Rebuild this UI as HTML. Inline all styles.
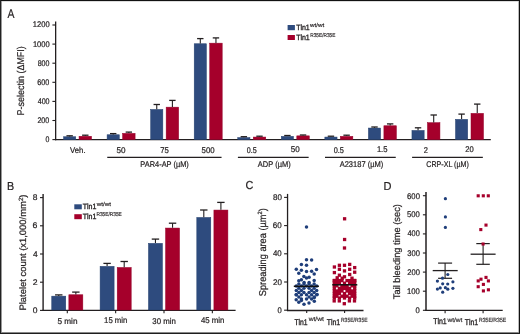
<!DOCTYPE html>
<html><head><meta charset="utf-8"><title>Figure</title>
<style>
html,body{margin:0;padding:0;background:#fff;}
svg{display:block;will-change:transform;}
svg text{font-family:"Liberation Sans", sans-serif;fill:#231f20;stroke:#231f20;stroke-width:0.22px;text-rendering:geometricPrecision;}
svg text.s{stroke-width:0.16px;}
svg text.b{stroke-width:0.34px;}
</style></head>
<body>
<svg width="520" height="334" viewBox="0 0 520 334">
<rect x="0" y="0" width="520" height="334" fill="#fff"/>
<line x1="55.65" y1="21.40" x2="55.65" y2="140.20" stroke="#231f20" stroke-width="1.3"/>
<line x1="55.05" y1="139.60" x2="490.80" y2="139.60" stroke="#231f20" stroke-width="1.4"/>
<line x1="52.40" y1="139.60" x2="55.65" y2="139.60" stroke="#231f20" stroke-width="1.1"/>
<line x1="52.40" y1="120.50" x2="55.65" y2="120.50" stroke="#231f20" stroke-width="1.1"/>
<line x1="52.40" y1="101.40" x2="55.65" y2="101.40" stroke="#231f20" stroke-width="1.1"/>
<line x1="52.40" y1="82.30" x2="55.65" y2="82.30" stroke="#231f20" stroke-width="1.1"/>
<line x1="52.40" y1="63.20" x2="55.65" y2="63.20" stroke="#231f20" stroke-width="1.1"/>
<line x1="52.40" y1="44.10" x2="55.65" y2="44.10" stroke="#231f20" stroke-width="1.1"/>
<line x1="52.40" y1="25.00" x2="55.65" y2="25.00" stroke="#231f20" stroke-width="1.1"/>
<rect x="63.55" y="136.75" width="12.20" height="2.85" fill="#2e4b7e" stroke="#24406f" stroke-width="0.5"/>
<line x1="69.65" y1="135.80" x2="69.65" y2="136.50" stroke="#231f20" stroke-width="1.1"/>
<line x1="66.45" y1="135.80" x2="72.85" y2="135.80" stroke="#231f20" stroke-width="1.3"/>
<rect x="79.05" y="136.25" width="12.50" height="3.35" fill="#a5002b" stroke="#95002a" stroke-width="0.5"/>
<line x1="85.30" y1="135.20" x2="85.30" y2="136.00" stroke="#231f20" stroke-width="1.1"/>
<line x1="82.10" y1="135.20" x2="88.50" y2="135.20" stroke="#231f20" stroke-width="1.3"/>
<rect x="107.10" y="134.75" width="12.20" height="4.85" fill="#2e4b7e" stroke="#24406f" stroke-width="0.5"/>
<line x1="113.20" y1="133.60" x2="113.20" y2="134.50" stroke="#231f20" stroke-width="1.1"/>
<line x1="110.00" y1="133.60" x2="116.40" y2="133.60" stroke="#231f20" stroke-width="1.3"/>
<rect x="122.60" y="133.35" width="12.50" height="6.25" fill="#a5002b" stroke="#95002a" stroke-width="0.5"/>
<line x1="128.85" y1="132.10" x2="128.85" y2="133.10" stroke="#231f20" stroke-width="1.1"/>
<line x1="125.65" y1="132.10" x2="132.05" y2="132.10" stroke="#231f20" stroke-width="1.3"/>
<rect x="150.65" y="109.45" width="12.20" height="30.15" fill="#2e4b7e" stroke="#24406f" stroke-width="0.5"/>
<line x1="156.75" y1="104.50" x2="156.75" y2="109.20" stroke="#231f20" stroke-width="1.1"/>
<line x1="153.55" y1="104.50" x2="159.95" y2="104.50" stroke="#231f20" stroke-width="1.3"/>
<rect x="166.15" y="107.15" width="12.50" height="32.45" fill="#a5002b" stroke="#95002a" stroke-width="0.5"/>
<line x1="172.40" y1="100.40" x2="172.40" y2="106.90" stroke="#231f20" stroke-width="1.1"/>
<line x1="169.20" y1="100.40" x2="175.60" y2="100.40" stroke="#231f20" stroke-width="1.3"/>
<rect x="194.20" y="43.75" width="12.20" height="95.85" fill="#2e4b7e" stroke="#24406f" stroke-width="0.5"/>
<line x1="200.30" y1="38.60" x2="200.30" y2="43.50" stroke="#231f20" stroke-width="1.1"/>
<line x1="197.10" y1="38.60" x2="203.50" y2="38.60" stroke="#231f20" stroke-width="1.3"/>
<rect x="209.70" y="43.15" width="12.50" height="96.45" fill="#a5002b" stroke="#95002a" stroke-width="0.5"/>
<line x1="215.95" y1="37.90" x2="215.95" y2="42.90" stroke="#231f20" stroke-width="1.1"/>
<line x1="212.75" y1="37.90" x2="219.15" y2="37.90" stroke="#231f20" stroke-width="1.3"/>
<rect x="237.75" y="137.55" width="12.20" height="2.05" fill="#2e4b7e" stroke="#24406f" stroke-width="0.5"/>
<line x1="243.85" y1="136.70" x2="243.85" y2="137.30" stroke="#231f20" stroke-width="1.1"/>
<line x1="240.65" y1="136.70" x2="247.05" y2="136.70" stroke="#231f20" stroke-width="1.3"/>
<rect x="253.25" y="137.05" width="12.50" height="2.55" fill="#a5002b" stroke="#95002a" stroke-width="0.5"/>
<line x1="259.50" y1="136.20" x2="259.50" y2="136.80" stroke="#231f20" stroke-width="1.1"/>
<line x1="256.30" y1="136.20" x2="262.70" y2="136.20" stroke="#231f20" stroke-width="1.3"/>
<rect x="281.30" y="136.35" width="12.20" height="3.25" fill="#2e4b7e" stroke="#24406f" stroke-width="0.5"/>
<line x1="287.40" y1="135.50" x2="287.40" y2="136.10" stroke="#231f20" stroke-width="1.1"/>
<line x1="284.20" y1="135.50" x2="290.60" y2="135.50" stroke="#231f20" stroke-width="1.3"/>
<rect x="296.80" y="135.85" width="12.50" height="3.75" fill="#a5002b" stroke="#95002a" stroke-width="0.5"/>
<line x1="303.05" y1="135.00" x2="303.05" y2="135.60" stroke="#231f20" stroke-width="1.1"/>
<line x1="299.85" y1="135.00" x2="306.25" y2="135.00" stroke="#231f20" stroke-width="1.3"/>
<rect x="324.85" y="137.05" width="12.20" height="2.55" fill="#2e4b7e" stroke="#24406f" stroke-width="0.5"/>
<line x1="330.95" y1="136.20" x2="330.95" y2="136.80" stroke="#231f20" stroke-width="1.1"/>
<line x1="327.75" y1="136.20" x2="334.15" y2="136.20" stroke="#231f20" stroke-width="1.3"/>
<rect x="340.35" y="136.35" width="12.50" height="3.25" fill="#a5002b" stroke="#95002a" stroke-width="0.5"/>
<line x1="346.60" y1="135.20" x2="346.60" y2="136.10" stroke="#231f20" stroke-width="1.1"/>
<line x1="343.40" y1="135.20" x2="349.80" y2="135.20" stroke="#231f20" stroke-width="1.3"/>
<rect x="368.40" y="128.05" width="12.20" height="11.55" fill="#2e4b7e" stroke="#24406f" stroke-width="0.5"/>
<line x1="374.50" y1="127.00" x2="374.50" y2="127.80" stroke="#231f20" stroke-width="1.1"/>
<line x1="371.30" y1="127.00" x2="377.70" y2="127.00" stroke="#231f20" stroke-width="1.3"/>
<rect x="383.90" y="125.75" width="12.50" height="13.85" fill="#a5002b" stroke="#95002a" stroke-width="0.5"/>
<line x1="390.15" y1="123.90" x2="390.15" y2="125.50" stroke="#231f20" stroke-width="1.1"/>
<line x1="386.95" y1="123.90" x2="393.35" y2="123.90" stroke="#231f20" stroke-width="1.3"/>
<rect x="411.95" y="130.45" width="12.20" height="9.15" fill="#2e4b7e" stroke="#24406f" stroke-width="0.5"/>
<line x1="418.05" y1="127.80" x2="418.05" y2="130.20" stroke="#231f20" stroke-width="1.1"/>
<line x1="414.85" y1="127.80" x2="421.25" y2="127.80" stroke="#231f20" stroke-width="1.3"/>
<rect x="427.45" y="122.65" width="12.50" height="16.95" fill="#a5002b" stroke="#95002a" stroke-width="0.5"/>
<line x1="433.70" y1="115.00" x2="433.70" y2="122.40" stroke="#231f20" stroke-width="1.1"/>
<line x1="430.50" y1="115.00" x2="436.90" y2="115.00" stroke="#231f20" stroke-width="1.3"/>
<rect x="455.50" y="119.35" width="12.20" height="20.25" fill="#2e4b7e" stroke="#24406f" stroke-width="0.5"/>
<line x1="461.60" y1="114.10" x2="461.60" y2="119.10" stroke="#231f20" stroke-width="1.1"/>
<line x1="458.40" y1="114.10" x2="464.80" y2="114.10" stroke="#231f20" stroke-width="1.3"/>
<rect x="471.00" y="113.35" width="12.50" height="26.25" fill="#a5002b" stroke="#95002a" stroke-width="0.5"/>
<line x1="477.25" y1="104.10" x2="477.25" y2="113.10" stroke="#231f20" stroke-width="1.1"/>
<line x1="474.05" y1="104.10" x2="480.45" y2="104.10" stroke="#231f20" stroke-width="1.3"/>
<line x1="107.25" y1="157.30" x2="221.55" y2="157.30" stroke="#231f20" stroke-width="1.3"/>
<line x1="237.90" y1="157.30" x2="308.65" y2="157.30" stroke="#231f20" stroke-width="1.3"/>
<line x1="325.00" y1="157.30" x2="395.75" y2="157.30" stroke="#231f20" stroke-width="1.3"/>
<line x1="412.10" y1="157.30" x2="482.85" y2="157.30" stroke="#231f20" stroke-width="1.3"/>
<rect x="287.60" y="25.00" width="7.30" height="5.20" fill="#2e4b7e"/>
<rect x="287.60" y="35.00" width="7.30" height="5.00" fill="#a5002b"/>
<line x1="43.10" y1="193.90" x2="43.10" y2="311.00" stroke="#231f20" stroke-width="1.4"/>
<line x1="42.50" y1="310.40" x2="235.60" y2="310.40" stroke="#231f20" stroke-width="1.35"/>
<line x1="40.00" y1="310.40" x2="43.10" y2="310.40" stroke="#231f20" stroke-width="1.1"/>
<line x1="40.00" y1="282.20" x2="43.10" y2="282.20" stroke="#231f20" stroke-width="1.1"/>
<line x1="40.00" y1="254.00" x2="43.10" y2="254.00" stroke="#231f20" stroke-width="1.1"/>
<line x1="40.00" y1="225.80" x2="43.10" y2="225.80" stroke="#231f20" stroke-width="1.1"/>
<line x1="40.00" y1="197.60" x2="43.10" y2="197.60" stroke="#231f20" stroke-width="1.1"/>
<rect x="51.75" y="296.15" width="14.00" height="13.85" fill="#2e4b7e" stroke="#24406f" stroke-width="0.5"/>
<line x1="58.75" y1="294.90" x2="58.75" y2="295.90" stroke="#231f20" stroke-width="1.1"/>
<line x1="55.05" y1="294.90" x2="62.45" y2="294.90" stroke="#231f20" stroke-width="1.3"/>
<rect x="68.85" y="294.75" width="14.00" height="15.25" fill="#a5002b" stroke="#95002a" stroke-width="0.5"/>
<line x1="75.85" y1="292.10" x2="75.85" y2="294.50" stroke="#231f20" stroke-width="1.1"/>
<line x1="72.15" y1="292.10" x2="79.55" y2="292.10" stroke="#231f20" stroke-width="1.3"/>
<line x1="67.30" y1="310.40" x2="67.30" y2="313.30" stroke="#231f20" stroke-width="1.1"/>
<rect x="100.10" y="266.35" width="14.00" height="43.65" fill="#2e4b7e" stroke="#24406f" stroke-width="0.5"/>
<line x1="107.10" y1="263.40" x2="107.10" y2="266.10" stroke="#231f20" stroke-width="1.1"/>
<line x1="103.40" y1="263.40" x2="110.80" y2="263.40" stroke="#231f20" stroke-width="1.3"/>
<rect x="117.20" y="267.45" width="14.00" height="42.55" fill="#a5002b" stroke="#95002a" stroke-width="0.5"/>
<line x1="124.20" y1="261.50" x2="124.20" y2="267.20" stroke="#231f20" stroke-width="1.1"/>
<line x1="120.50" y1="261.50" x2="127.90" y2="261.50" stroke="#231f20" stroke-width="1.3"/>
<line x1="115.65" y1="310.40" x2="115.65" y2="313.30" stroke="#231f20" stroke-width="1.1"/>
<rect x="148.45" y="243.35" width="14.00" height="66.65" fill="#2e4b7e" stroke="#24406f" stroke-width="0.5"/>
<line x1="155.45" y1="239.10" x2="155.45" y2="243.10" stroke="#231f20" stroke-width="1.1"/>
<line x1="151.75" y1="239.10" x2="159.15" y2="239.10" stroke="#231f20" stroke-width="1.3"/>
<rect x="165.55" y="228.05" width="14.00" height="81.95" fill="#a5002b" stroke="#95002a" stroke-width="0.5"/>
<line x1="172.55" y1="223.20" x2="172.55" y2="227.80" stroke="#231f20" stroke-width="1.1"/>
<line x1="168.85" y1="223.20" x2="176.25" y2="223.20" stroke="#231f20" stroke-width="1.3"/>
<line x1="164.00" y1="310.40" x2="164.00" y2="313.30" stroke="#231f20" stroke-width="1.1"/>
<rect x="196.80" y="217.45" width="14.00" height="92.55" fill="#2e4b7e" stroke="#24406f" stroke-width="0.5"/>
<line x1="203.80" y1="210.00" x2="203.80" y2="217.20" stroke="#231f20" stroke-width="1.1"/>
<line x1="200.10" y1="210.00" x2="207.50" y2="210.00" stroke="#231f20" stroke-width="1.3"/>
<rect x="213.90" y="210.05" width="14.00" height="99.95" fill="#a5002b" stroke="#95002a" stroke-width="0.5"/>
<line x1="220.90" y1="202.40" x2="220.90" y2="209.80" stroke="#231f20" stroke-width="1.1"/>
<line x1="217.20" y1="202.40" x2="224.60" y2="202.40" stroke="#231f20" stroke-width="1.3"/>
<line x1="212.35" y1="310.40" x2="212.35" y2="313.30" stroke="#231f20" stroke-width="1.1"/>
<rect x="74.30" y="204.30" width="7.50" height="5.00" fill="#2e4b7e"/>
<rect x="74.30" y="214.20" width="7.50" height="5.00" fill="#a5002b"/>
<line x1="287.55" y1="193.90" x2="287.55" y2="311.05" stroke="#231f20" stroke-width="1.3"/>
<line x1="286.95" y1="310.45" x2="363.50" y2="310.45" stroke="#231f20" stroke-width="1.35"/>
<line x1="284.10" y1="310.20" x2="287.55" y2="310.20" stroke="#231f20" stroke-width="1.1"/>
<line x1="284.10" y1="282.00" x2="287.55" y2="282.00" stroke="#231f20" stroke-width="1.1"/>
<line x1="284.10" y1="253.80" x2="287.55" y2="253.80" stroke="#231f20" stroke-width="1.1"/>
<line x1="284.10" y1="225.60" x2="287.55" y2="225.60" stroke="#231f20" stroke-width="1.1"/>
<line x1="284.10" y1="197.40" x2="287.55" y2="197.40" stroke="#231f20" stroke-width="1.1"/>
<line x1="306.70" y1="310.45" x2="306.70" y2="313.00" stroke="#231f20" stroke-width="1.1"/>
<line x1="344.60" y1="310.45" x2="344.60" y2="313.00" stroke="#231f20" stroke-width="1.1"/>
<line x1="426.00" y1="192.00" x2="426.00" y2="311.00" stroke="#231f20" stroke-width="1.5"/>
<line x1="425.40" y1="310.40" x2="502.70" y2="310.40" stroke="#231f20" stroke-width="1.35"/>
<line x1="422.90" y1="310.30" x2="426.00" y2="310.30" stroke="#231f20" stroke-width="1.1"/>
<line x1="422.90" y1="291.20" x2="426.00" y2="291.20" stroke="#231f20" stroke-width="1.1"/>
<line x1="422.90" y1="272.10" x2="426.00" y2="272.10" stroke="#231f20" stroke-width="1.1"/>
<line x1="422.90" y1="253.00" x2="426.00" y2="253.00" stroke="#231f20" stroke-width="1.1"/>
<line x1="422.90" y1="233.90" x2="426.00" y2="233.90" stroke="#231f20" stroke-width="1.1"/>
<line x1="422.90" y1="214.80" x2="426.00" y2="214.80" stroke="#231f20" stroke-width="1.1"/>
<line x1="422.90" y1="195.70" x2="426.00" y2="195.70" stroke="#231f20" stroke-width="1.1"/>
<line x1="445.10" y1="310.40" x2="445.10" y2="313.30" stroke="#231f20" stroke-width="1.1"/>
<line x1="483.10" y1="310.40" x2="483.10" y2="313.30" stroke="#231f20" stroke-width="1.1"/>
<circle cx="306.50" cy="227.00" r="1.75" fill="#1f3e7a"/>
<circle cx="306.50" cy="259.80" r="1.75" fill="#1f3e7a"/>
<circle cx="311.60" cy="260.00" r="1.75" fill="#1f3e7a"/>
<circle cx="301.40" cy="264.40" r="1.75" fill="#1f3e7a"/>
<circle cx="306.50" cy="265.20" r="1.75" fill="#1f3e7a"/>
<circle cx="296.30" cy="269.30" r="1.75" fill="#1f3e7a"/>
<circle cx="301.40" cy="270.20" r="1.75" fill="#1f3e7a"/>
<circle cx="306.50" cy="271.60" r="1.75" fill="#1f3e7a"/>
<circle cx="311.60" cy="271.20" r="1.75" fill="#1f3e7a"/>
<circle cx="316.50" cy="269.40" r="1.75" fill="#1f3e7a"/>
<circle cx="298.80" cy="273.30" r="1.75" fill="#1f3e7a"/>
<circle cx="314.20" cy="274.10" r="1.75" fill="#1f3e7a"/>
<circle cx="303.90" cy="276.40" r="1.75" fill="#1f3e7a"/>
<circle cx="306.50" cy="278.00" r="1.75" fill="#1f3e7a"/>
<circle cx="309.10" cy="277.30" r="1.75" fill="#1f3e7a"/>
<circle cx="301.40" cy="279.80" r="1.75" fill="#1f3e7a"/>
<circle cx="298.80" cy="280.80" r="1.75" fill="#1f3e7a"/>
<circle cx="314.20" cy="280.50" r="1.75" fill="#1f3e7a"/>
<circle cx="304.10" cy="282.40" r="1.75" fill="#1f3e7a"/>
<circle cx="309.10" cy="282.40" r="1.75" fill="#1f3e7a"/>
<circle cx="304.00" cy="304.30" r="1.75" fill="#1f3e7a"/>
<circle cx="309.00" cy="303.10" r="1.75" fill="#1f3e7a"/>
<circle cx="298.80" cy="302.30" r="1.75" fill="#1f3e7a"/>
<circle cx="314.30" cy="301.20" r="1.75" fill="#1f3e7a"/>
<circle cx="296.20" cy="299.70" r="1.75" fill="#1f3e7a"/>
<circle cx="301.40" cy="300.60" r="1.75" fill="#1f3e7a"/>
<circle cx="314.30" cy="297.50" r="1.75" fill="#1f3e7a"/>
<circle cx="296.20" cy="294.80" r="1.75" fill="#1f3e7a"/>
<circle cx="317.10" cy="294.50" r="1.75" fill="#1f3e7a"/>
<circle cx="298.85" cy="283.90" r="1.75" fill="#1f3e7a"/>
<circle cx="303.95" cy="283.90" r="1.75" fill="#1f3e7a"/>
<circle cx="309.05" cy="283.90" r="1.75" fill="#1f3e7a"/>
<circle cx="314.15" cy="283.90" r="1.75" fill="#1f3e7a"/>
<circle cx="296.30" cy="286.00" r="1.75" fill="#1f3e7a"/>
<circle cx="301.40" cy="286.00" r="1.75" fill="#1f3e7a"/>
<circle cx="306.50" cy="286.00" r="1.75" fill="#1f3e7a"/>
<circle cx="311.60" cy="286.00" r="1.75" fill="#1f3e7a"/>
<circle cx="316.70" cy="286.00" r="1.75" fill="#1f3e7a"/>
<circle cx="298.85" cy="288.20" r="1.75" fill="#1f3e7a"/>
<circle cx="303.95" cy="288.20" r="1.75" fill="#1f3e7a"/>
<circle cx="309.05" cy="288.20" r="1.75" fill="#1f3e7a"/>
<circle cx="314.15" cy="288.20" r="1.75" fill="#1f3e7a"/>
<circle cx="296.30" cy="290.40" r="1.75" fill="#1f3e7a"/>
<circle cx="301.40" cy="290.40" r="1.75" fill="#1f3e7a"/>
<circle cx="311.60" cy="290.40" r="1.75" fill="#1f3e7a"/>
<circle cx="316.70" cy="290.40" r="1.75" fill="#1f3e7a"/>
<circle cx="298.85" cy="292.60" r="1.75" fill="#1f3e7a"/>
<circle cx="303.95" cy="292.60" r="1.75" fill="#1f3e7a"/>
<circle cx="309.05" cy="292.60" r="1.75" fill="#1f3e7a"/>
<circle cx="314.15" cy="292.60" r="1.75" fill="#1f3e7a"/>
<circle cx="296.30" cy="294.80" r="1.75" fill="#1f3e7a"/>
<circle cx="301.40" cy="294.80" r="1.75" fill="#1f3e7a"/>
<circle cx="306.50" cy="294.80" r="1.75" fill="#1f3e7a"/>
<circle cx="311.60" cy="294.80" r="1.75" fill="#1f3e7a"/>
<circle cx="316.70" cy="294.80" r="1.75" fill="#1f3e7a"/>
<circle cx="298.85" cy="297.00" r="1.75" fill="#1f3e7a"/>
<circle cx="309.05" cy="297.00" r="1.75" fill="#1f3e7a"/>
<circle cx="314.15" cy="297.00" r="1.75" fill="#1f3e7a"/>
<circle cx="301.40" cy="299.00" r="1.75" fill="#1f3e7a"/>
<circle cx="306.50" cy="299.00" r="1.75" fill="#1f3e7a"/>
<circle cx="311.60" cy="299.00" r="1.75" fill="#1f3e7a"/>
<rect x="342.95" y="217.15" width="3.3" height="3.3" fill="#a6002b"/>
<rect x="342.95" y="237.85" width="3.3" height="3.3" fill="#a6002b"/>
<rect x="342.85" y="246.35" width="3.3" height="3.3" fill="#a6002b"/>
<rect x="332.75" y="265.35" width="3.3" height="3.3" fill="#a6002b"/>
<rect x="337.75" y="263.65" width="3.3" height="3.3" fill="#a6002b"/>
<rect x="342.85" y="263.65" width="3.3" height="3.3" fill="#a6002b"/>
<rect x="348.05" y="262.75" width="3.3" height="3.3" fill="#a6002b"/>
<rect x="353.05" y="265.95" width="3.3" height="3.3" fill="#a6002b"/>
<rect x="337.75" y="267.65" width="3.3" height="3.3" fill="#a6002b"/>
<rect x="342.85" y="269.25" width="3.3" height="3.3" fill="#a6002b"/>
<rect x="348.05" y="267.65" width="3.3" height="3.3" fill="#a6002b"/>
<rect x="332.75" y="270.95" width="3.3" height="3.3" fill="#a6002b"/>
<rect x="353.05" y="270.55" width="3.3" height="3.3" fill="#a6002b"/>
<rect x="337.75" y="273.55" width="3.3" height="3.3" fill="#a6002b"/>
<rect x="348.05" y="272.85" width="3.3" height="3.3" fill="#a6002b"/>
<rect x="342.85" y="275.15" width="3.3" height="3.3" fill="#a6002b"/>
<rect x="340.55" y="276.55" width="3.3" height="3.3" fill="#a6002b"/>
<rect x="335.55" y="276.15" width="3.3" height="3.3" fill="#a6002b"/>
<rect x="350.35" y="276.55" width="3.3" height="3.3" fill="#a6002b"/>
<rect x="332.75" y="278.85" width="3.3" height="3.3" fill="#a6002b"/>
<rect x="353.05" y="278.85" width="3.3" height="3.3" fill="#a6002b"/>
<rect x="332.55" y="299.25" width="3.3" height="3.3" fill="#a6002b"/>
<rect x="337.65" y="299.25" width="3.3" height="3.3" fill="#a6002b"/>
<rect x="347.75" y="299.25" width="3.3" height="3.3" fill="#a6002b"/>
<rect x="352.85" y="299.25" width="3.3" height="3.3" fill="#a6002b"/>
<rect x="342.65" y="302.05" width="3.3" height="3.3" fill="#a6002b"/>
<rect x="332.65" y="278.95" width="3.3" height="3.3" fill="#a6002b"/>
<rect x="335.20" y="278.95" width="3.3" height="3.3" fill="#a6002b"/>
<rect x="337.75" y="278.95" width="3.3" height="3.3" fill="#a6002b"/>
<rect x="340.30" y="278.95" width="3.3" height="3.3" fill="#a6002b"/>
<rect x="345.40" y="278.95" width="3.3" height="3.3" fill="#a6002b"/>
<rect x="347.95" y="278.95" width="3.3" height="3.3" fill="#a6002b"/>
<rect x="350.50" y="278.95" width="3.3" height="3.3" fill="#a6002b"/>
<rect x="353.05" y="278.95" width="3.3" height="3.3" fill="#a6002b"/>
<rect x="332.65" y="281.55" width="3.3" height="3.3" fill="#a6002b"/>
<rect x="335.20" y="281.55" width="3.3" height="3.3" fill="#a6002b"/>
<rect x="337.75" y="281.55" width="3.3" height="3.3" fill="#a6002b"/>
<rect x="342.85" y="281.55" width="3.3" height="3.3" fill="#a6002b"/>
<rect x="347.95" y="281.55" width="3.3" height="3.3" fill="#a6002b"/>
<rect x="350.50" y="281.55" width="3.3" height="3.3" fill="#a6002b"/>
<rect x="353.05" y="281.55" width="3.3" height="3.3" fill="#a6002b"/>
<rect x="332.65" y="284.15" width="3.3" height="3.3" fill="#a6002b"/>
<rect x="335.20" y="284.15" width="3.3" height="3.3" fill="#a6002b"/>
<rect x="340.30" y="284.15" width="3.3" height="3.3" fill="#a6002b"/>
<rect x="342.85" y="284.15" width="3.3" height="3.3" fill="#a6002b"/>
<rect x="345.40" y="284.15" width="3.3" height="3.3" fill="#a6002b"/>
<rect x="350.50" y="284.15" width="3.3" height="3.3" fill="#a6002b"/>
<rect x="353.05" y="284.15" width="3.3" height="3.3" fill="#a6002b"/>
<rect x="332.65" y="286.75" width="3.3" height="3.3" fill="#a6002b"/>
<rect x="337.75" y="286.75" width="3.3" height="3.3" fill="#a6002b"/>
<rect x="340.30" y="286.75" width="3.3" height="3.3" fill="#a6002b"/>
<rect x="342.85" y="286.75" width="3.3" height="3.3" fill="#a6002b"/>
<rect x="345.40" y="286.75" width="3.3" height="3.3" fill="#a6002b"/>
<rect x="347.95" y="286.75" width="3.3" height="3.3" fill="#a6002b"/>
<rect x="353.05" y="286.75" width="3.3" height="3.3" fill="#a6002b"/>
<rect x="332.65" y="289.35" width="3.3" height="3.3" fill="#a6002b"/>
<rect x="335.20" y="289.35" width="3.3" height="3.3" fill="#a6002b"/>
<rect x="337.75" y="289.35" width="3.3" height="3.3" fill="#a6002b"/>
<rect x="340.30" y="289.35" width="3.3" height="3.3" fill="#a6002b"/>
<rect x="345.40" y="289.35" width="3.3" height="3.3" fill="#a6002b"/>
<rect x="347.95" y="289.35" width="3.3" height="3.3" fill="#a6002b"/>
<rect x="350.50" y="289.35" width="3.3" height="3.3" fill="#a6002b"/>
<rect x="353.05" y="289.35" width="3.3" height="3.3" fill="#a6002b"/>
<rect x="332.65" y="291.95" width="3.3" height="3.3" fill="#a6002b"/>
<rect x="335.20" y="291.95" width="3.3" height="3.3" fill="#a6002b"/>
<rect x="337.75" y="291.95" width="3.3" height="3.3" fill="#a6002b"/>
<rect x="342.85" y="291.95" width="3.3" height="3.3" fill="#a6002b"/>
<rect x="347.95" y="291.95" width="3.3" height="3.3" fill="#a6002b"/>
<rect x="350.50" y="291.95" width="3.3" height="3.3" fill="#a6002b"/>
<rect x="353.05" y="291.95" width="3.3" height="3.3" fill="#a6002b"/>
<rect x="332.65" y="294.55" width="3.3" height="3.3" fill="#a6002b"/>
<rect x="335.20" y="294.55" width="3.3" height="3.3" fill="#a6002b"/>
<rect x="340.30" y="294.55" width="3.3" height="3.3" fill="#a6002b"/>
<rect x="342.85" y="294.55" width="3.3" height="3.3" fill="#a6002b"/>
<rect x="345.40" y="294.55" width="3.3" height="3.3" fill="#a6002b"/>
<rect x="350.50" y="294.55" width="3.3" height="3.3" fill="#a6002b"/>
<rect x="353.05" y="294.55" width="3.3" height="3.3" fill="#a6002b"/>
<rect x="332.65" y="296.35" width="3.3" height="3.3" fill="#a6002b"/>
<rect x="337.75" y="296.35" width="3.3" height="3.3" fill="#a6002b"/>
<rect x="342.85" y="296.35" width="3.3" height="3.3" fill="#a6002b"/>
<rect x="347.95" y="296.35" width="3.3" height="3.3" fill="#a6002b"/>
<rect x="353.05" y="296.35" width="3.3" height="3.3" fill="#a6002b"/>
<line x1="293.80" y1="286.30" x2="318.90" y2="286.30" stroke="#111" stroke-width="1.5"/>
<line x1="332.30" y1="284.80" x2="357.30" y2="284.80" stroke="#111" stroke-width="1.5"/>
<line x1="445.10" y1="263.10" x2="445.10" y2="278.30" stroke="#231f20" stroke-width="1.1"/>
<line x1="438.10" y1="263.10" x2="452.10" y2="263.10" stroke="#231f20" stroke-width="1.2"/>
<line x1="438.10" y1="278.30" x2="452.10" y2="278.30" stroke="#231f20" stroke-width="1.2"/>
<line x1="432.70" y1="270.60" x2="457.70" y2="270.60" stroke="#231f20" stroke-width="1.3"/>
<circle cx="445.40" cy="198.70" r="1.6" fill="#1f3e7a"/>
<circle cx="445.40" cy="216.90" r="1.6" fill="#1f3e7a"/>
<circle cx="445.40" cy="227.40" r="1.6" fill="#1f3e7a"/>
<circle cx="447.80" cy="274.50" r="1.6" fill="#1f3e7a"/>
<circle cx="442.50" cy="278.20" r="1.6" fill="#1f3e7a"/>
<circle cx="437.40" cy="281.10" r="1.6" fill="#1f3e7a"/>
<circle cx="452.90" cy="281.80" r="1.6" fill="#1f3e7a"/>
<circle cx="442.70" cy="283.80" r="1.6" fill="#1f3e7a"/>
<circle cx="447.70" cy="284.00" r="1.6" fill="#1f3e7a"/>
<circle cx="437.40" cy="289.10" r="1.6" fill="#1f3e7a"/>
<circle cx="440.20" cy="287.90" r="1.6" fill="#1f3e7a"/>
<circle cx="445.40" cy="287.70" r="1.6" fill="#1f3e7a"/>
<circle cx="447.80" cy="289.20" r="1.6" fill="#1f3e7a"/>
<circle cx="452.90" cy="288.30" r="1.6" fill="#1f3e7a"/>
<circle cx="442.70" cy="292.20" r="1.6" fill="#1f3e7a"/>
<line x1="483.10" y1="243.60" x2="483.10" y2="264.30" stroke="#231f20" stroke-width="1.1"/>
<line x1="476.30" y1="243.60" x2="489.80" y2="243.60" stroke="#231f20" stroke-width="1.2"/>
<line x1="476.30" y1="264.30" x2="489.80" y2="264.30" stroke="#231f20" stroke-width="1.2"/>
<line x1="470.60" y1="254.20" x2="495.60" y2="254.20" stroke="#231f20" stroke-width="1.3"/>
<rect x="476.65" y="194.25" width="3.1" height="3.1" fill="#a6002b"/>
<rect x="481.75" y="194.25" width="3.1" height="3.1" fill="#a6002b"/>
<rect x="486.75" y="194.25" width="3.1" height="3.1" fill="#a6002b"/>
<rect x="484.45" y="223.55" width="3.1" height="3.1" fill="#a6002b"/>
<rect x="479.25" y="228.05" width="3.1" height="3.1" fill="#a6002b"/>
<rect x="481.55" y="242.45" width="3.1" height="3.1" fill="#a6002b"/>
<rect x="484.45" y="275.85" width="3.1" height="3.1" fill="#a6002b"/>
<rect x="479.45" y="277.65" width="3.1" height="3.1" fill="#a6002b"/>
<rect x="476.65" y="279.35" width="3.1" height="3.1" fill="#a6002b"/>
<rect x="486.85" y="279.35" width="3.1" height="3.1" fill="#a6002b"/>
<rect x="481.85" y="282.85" width="3.1" height="3.1" fill="#a6002b"/>
<rect x="476.65" y="285.15" width="3.1" height="3.1" fill="#a6002b"/>
<rect x="481.85" y="289.35" width="3.1" height="3.1" fill="#a6002b"/>
<rect x="486.85" y="288.25" width="3.1" height="3.1" fill="#a6002b"/>
<text x="7.49" y="17.52" font-size="12.6" textLength="6.95" lengthAdjust="spacingAndGlyphs">A</text>
<text x="6.92" y="189.65" font-size="11.6" textLength="7.15" lengthAdjust="spacingAndGlyphs">B</text>
<text x="245.54" y="189.35" font-size="11.6" textLength="7.84" lengthAdjust="spacingAndGlyphs">C</text>
<text x="383.59" y="189.54" font-size="11.6" textLength="7.97" lengthAdjust="spacingAndGlyphs">D</text>
<text x="45.61" y="142.28" font-size="8.2" textLength="3.88" lengthAdjust="spacingAndGlyphs">0</text>
<text x="37.40" y="123.19" font-size="8.2" textLength="11.79" lengthAdjust="spacingAndGlyphs">200</text>
<text x="37.70" y="104.14" font-size="8.2" textLength="11.89" lengthAdjust="spacingAndGlyphs">400</text>
<text x="37.35" y="84.94" font-size="8.2" textLength="12.03" lengthAdjust="spacingAndGlyphs">600</text>
<text x="37.64" y="65.90" font-size="8.2" textLength="11.80" lengthAdjust="spacingAndGlyphs">800</text>
<text x="32.92" y="46.58" font-size="8.2" textLength="16.75" lengthAdjust="spacingAndGlyphs">1000</text>
<text x="32.86" y="27.44" font-size="8.2" textLength="16.81" lengthAdjust="spacingAndGlyphs">1200</text>
<text x="70.11" y="152.61" font-size="8.3" textLength="15.44" lengthAdjust="spacingAndGlyphs">Veh.</text>
<text x="116.48" y="152.50" font-size="8.3" textLength="9.04" lengthAdjust="spacingAndGlyphs">50</text>
<text x="160.25" y="152.54" font-size="8.3" textLength="8.59" lengthAdjust="spacingAndGlyphs">75</text>
<text x="201.59" y="152.52" font-size="8.3" textLength="13.04" lengthAdjust="spacingAndGlyphs">500</text>
<text x="246.76" y="152.50" font-size="8.3" textLength="9.90" lengthAdjust="spacingAndGlyphs">0.5</text>
<text x="290.76" y="152.44" font-size="8.3" textLength="8.93" lengthAdjust="spacingAndGlyphs">50</text>
<text x="333.65" y="152.52" font-size="8.3" textLength="10.18" lengthAdjust="spacingAndGlyphs">0.5</text>
<text x="376.88" y="152.34" font-size="8.3" textLength="10.63" lengthAdjust="spacingAndGlyphs">1.5</text>
<text x="423.84" y="152.75" font-size="8.3" textLength="4.16" lengthAdjust="spacingAndGlyphs">2</text>
<text x="465.21" y="152.47" font-size="8.3" textLength="8.43" lengthAdjust="spacingAndGlyphs">20</text>
<text x="140.36" y="167.40" font-size="8.3" textLength="48.45" lengthAdjust="spacingAndGlyphs">PAR4-AP (&#181;M)</text>
<text x="257.86" y="167.40" font-size="8.3" textLength="32.78" lengthAdjust="spacingAndGlyphs">ADP (&#181;M)</text>
<text x="339.63" y="167.40" font-size="8.3" textLength="43.65" lengthAdjust="spacingAndGlyphs">A23187 (&#181;M)</text>
<text x="426.32" y="167.40" font-size="8.3" textLength="42.58" lengthAdjust="spacingAndGlyphs">CRP-XL (&#181;M)</text>
<text class="b" x="296.17" y="30.16" font-size="7.8" textLength="13.60" lengthAdjust="spacingAndGlyphs">Tln1</text>
<text class="s" x="310.03" y="27.20" font-size="5.6" textLength="14.09" lengthAdjust="spacingAndGlyphs">wt/wt</text>
<text class="b" x="296.17" y="39.71" font-size="7.8" textLength="13.60" lengthAdjust="spacingAndGlyphs">Tln1</text>
<text class="s" x="310.18" y="37.10" font-size="5.6" textLength="25.31" lengthAdjust="spacingAndGlyphs">R35E/R35E</text>
<text transform="translate(23.80,80.82) rotate(-90)" font-size="9.9" text-anchor="middle" textLength="69.25" lengthAdjust="spacingAndGlyphs">P-selectin (&#916;MFI)</text>
<text x="32.81" y="313.40" font-size="8.2" textLength="4.74" lengthAdjust="spacingAndGlyphs">0</text>
<text x="32.70" y="285.24" font-size="8.2" textLength="4.84" lengthAdjust="spacingAndGlyphs">2</text>
<text x="32.91" y="257.21" font-size="8.2" textLength="4.70" lengthAdjust="spacingAndGlyphs">4</text>
<text x="32.61" y="228.28" font-size="8.2" textLength="4.86" lengthAdjust="spacingAndGlyphs">6</text>
<text x="32.87" y="200.28" font-size="8.2" textLength="4.71" lengthAdjust="spacingAndGlyphs">8</text>
<text x="57.42" y="323.50" font-size="8.3" textLength="20.07" lengthAdjust="spacingAndGlyphs">5 min</text>
<text x="104.08" y="323.36" font-size="8.3" textLength="23.24" lengthAdjust="spacingAndGlyphs">15 min</text>
<text x="152.37" y="323.59" font-size="8.3" textLength="23.52" lengthAdjust="spacingAndGlyphs">30 min</text>
<text x="200.88" y="323.40" font-size="8.3" textLength="23.46" lengthAdjust="spacingAndGlyphs">45 min</text>
<text class="b" x="82.74" y="209.26" font-size="7.8" textLength="13.64" lengthAdjust="spacingAndGlyphs">Tln1</text>
<text class="s" x="96.74" y="206.10" font-size="5.6" textLength="14.21" lengthAdjust="spacingAndGlyphs">wt/wt</text>
<text class="b" x="82.74" y="219.11" font-size="7.8" textLength="13.64" lengthAdjust="spacingAndGlyphs">Tln1</text>
<text class="s" x="96.41" y="216.40" font-size="5.6" textLength="25.41" lengthAdjust="spacingAndGlyphs">R35E/R35E</text>
<text transform="translate(26.30,252.54) rotate(-90)" font-size="9.4" text-anchor="middle" textLength="116.09" lengthAdjust="spacingAndGlyphs">Platelet count (x1,000/mm<tspan font-size="6.2" dy="-3.6">2</tspan><tspan dy="3.6">)</tspan></text>
<text x="277.46" y="313.31" font-size="8.2" textLength="4.24" lengthAdjust="spacingAndGlyphs">0</text>
<text x="272.92" y="284.62" font-size="8.2" textLength="8.94" lengthAdjust="spacingAndGlyphs">20</text>
<text x="272.95" y="256.43" font-size="8.2" textLength="8.75" lengthAdjust="spacingAndGlyphs">40</text>
<text x="272.84" y="228.43" font-size="8.2" textLength="8.90" lengthAdjust="spacingAndGlyphs">60</text>
<text x="272.93" y="200.32" font-size="8.2" textLength="8.92" lengthAdjust="spacingAndGlyphs">80</text>
<text transform="translate(265.50,252.23) rotate(-90)" font-size="10.0" text-anchor="middle" textLength="87.93" lengthAdjust="spacingAndGlyphs">Spreading area (&#181;m<tspan font-size="6.2" dy="-3.6">2</tspan><tspan dy="3.6">)</tspan></text>
<text class="b" x="294.42" y="324.75" font-size="8.3" textLength="13.18" lengthAdjust="spacingAndGlyphs">Tln1</text>
<text class="s" x="308.67" y="321.10" font-size="6.0" textLength="15.25" lengthAdjust="spacingAndGlyphs">wt/wt</text>
<text class="b" x="326.69" y="324.66" font-size="8.3" textLength="13.48" lengthAdjust="spacingAndGlyphs">Tln1</text>
<text class="s" x="340.95" y="321.60" font-size="6.0" textLength="26.60" lengthAdjust="spacingAndGlyphs">R35E/R35E</text>
<text x="415.45" y="313.49" font-size="8.2" textLength="4.25" lengthAdjust="spacingAndGlyphs">0</text>
<text x="407.07" y="294.38" font-size="8.2" textLength="12.85" lengthAdjust="spacingAndGlyphs">100</text>
<text x="407.35" y="274.77" font-size="8.2" textLength="12.64" lengthAdjust="spacingAndGlyphs">200</text>
<text x="407.27" y="255.65" font-size="8.2" textLength="12.63" lengthAdjust="spacingAndGlyphs">300</text>
<text x="407.48" y="236.43" font-size="8.2" textLength="12.33" lengthAdjust="spacingAndGlyphs">400</text>
<text x="406.97" y="217.31" font-size="8.2" textLength="12.82" lengthAdjust="spacingAndGlyphs">500</text>
<text x="407.09" y="198.67" font-size="8.2" textLength="12.86" lengthAdjust="spacingAndGlyphs">600</text>
<text transform="translate(399.70,251.65) rotate(-90)" font-size="9.6" text-anchor="middle" textLength="95.03" lengthAdjust="spacingAndGlyphs">Tail bleeding time (sec)</text>
<text class="b" x="433.19" y="324.39" font-size="8.3" textLength="13.56" lengthAdjust="spacingAndGlyphs">Tln1</text>
<text class="s" x="447.50" y="321.60" font-size="6.0" textLength="14.92" lengthAdjust="spacingAndGlyphs">wt/wt</text>
<text class="b" x="464.73" y="324.80" font-size="8.3" textLength="13.42" lengthAdjust="spacingAndGlyphs">Tln1</text>
<text class="s" x="478.92" y="321.60" font-size="6.0" textLength="27.33" lengthAdjust="spacingAndGlyphs">R35E/R35E</text>
<rect x="0" y="1" width="520" height="1" fill="#ddd"/>
<rect x="1" y="0" width="1" height="334" fill="#999"/>
<rect x="518" y="0" width="1" height="334" fill="#bbb"/>
<rect x="0" y="332" width="520" height="1" fill="#888"/>
<rect x="0" y="0" width="520" height="1" fill="#111"/>
<rect x="0" y="0" width="1" height="334" fill="#222"/>
<rect x="519" y="0" width="1" height="334" fill="#111"/>
<rect x="0" y="333" width="520" height="1" fill="#1e1e1e"/>
</svg>
</body></html>
